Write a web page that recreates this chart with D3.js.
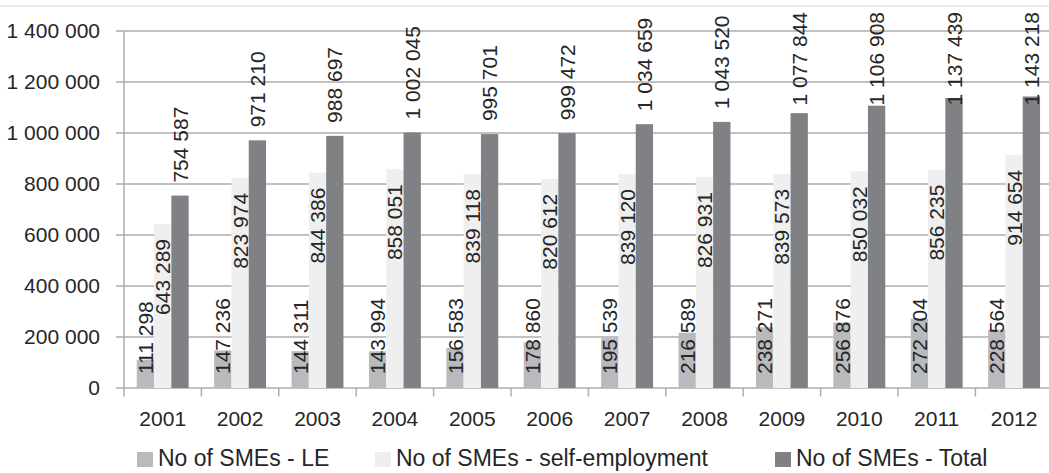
<!DOCTYPE html>
<html><head><meta charset="utf-8">
<script src="https://cdn.jsdelivr.net/npm/d3@7"></script>
<style>
body{margin:0;background:#fff}
svg{display:block}
text{font-family:"Liberation Sans",Arial,sans-serif;fill:#262626}
</style>
</head><body>
<svg id="c" width="1049" height="473"></svg>
<script>
const years = ["2001","2002","2003","2004","2005","2006","2007","2008","2009","2010","2011","2012"];
const seriesNames = ["No of SMEs - LE","No of SMEs - self-employment","No of SMEs - Total"];
const le = [111298,147236,144311,143994,156583,178860,195539,216589,238271,256876,272204,228564];
const selfEmp = [643289,823974,844386,858051,839118,820612,839120,826931,839573,850032,856235,914654];
const total = [754587,971210,988697,1002045,995701,999472,1034659,1043520,1077844,1106908,1137439,1143218];
const yTicks = [0,200000,400000,600000,800000,1000000,1200000,1400000];
const colors = ["#b9babe","#efefef","#808184"];

(function() {
const W = 1049, H = 473;
const padL = 124, padT = 31, baseY = 388, step = 77.4;
const svg = d3.select("#c");
const fmt = v => d3.format(",")(v).replace(/,/g, " ");

const y = d3.scaleLinear().domain([0, 1400000]).range([baseY, padT]);
const x = d3.scaleBand().domain(years).range([padL, padL + step * years.length]).padding(0);
const xi = d3.scaleBand().domain([0,1,2]).range([0, x.bandwidth()]).paddingInner(0).paddingOuter(0.737);

// faint top border
svg.append("line").attr("x1",0).attr("x2",W).attr("y1",6).attr("y2",6)
  .attr("stroke","#e6e6e6").attr("stroke-width",1.5);

// gridlines
svg.append("g").selectAll("line").data(yTicks).join("line")
  .attr("x1", padL - 8).attr("x2", W)
  .attr("y1", d => y(d)).attr("y2", d => y(d))
  .attr("stroke", "#adadad").attr("stroke-width", 1.5);

// y axis line
svg.append("line").attr("x1",padL).attr("x2",padL).attr("y1",padT).attr("y2",baseY)
  .attr("stroke","#adadad").attr("stroke-width",1.5);

// y labels
const yAxis = d3.axisLeft(y).tickValues(yTicks).tickSize(0).tickPadding(0).tickFormat(fmt);
const yg = svg.append("g").attr("transform", `translate(${padL - 24},0)`).call(yAxis);
yg.select(".domain").remove();
yg.selectAll("text").attr("font-size", 21).attr("font-family", null).attr("fill", "#262626");

// x boundary ticks
const bounds = years.map(d => x(d)).concat([x(years[years.length-1]) + x.bandwidth()]);
svg.append("g").selectAll("line").data(bounds).join("line")
  .attr("x1", d => d).attr("x2", d => d).attr("y1", baseY).attr("y2", baseY + 8.5)
  .attr("stroke", "#adadad").attr("stroke-width", 1.5);

// x labels
const xAxis = d3.axisBottom(x).tickSize(0).tickPadding(0);
const xg = svg.append("g").attr("transform", `translate(0,${baseY + 23})`).call(xAxis);
xg.select(".domain").remove();
xg.selectAll("text").attr("font-size", 21).attr("font-family", null).attr("fill", "#262626").attr("dy", "0.71em");

// bars
const series = [le, selfEmp, total];
series.forEach((vals, si) => {
  svg.append("g").selectAll("rect").data(vals).join("rect")
    .attr("x", (d, i) => x(years[i]) + xi(si))
    .attr("width", xi.bandwidth())
    .attr("y", d => y(d))
    .attr("height", d => y(0) - y(d))
    .attr("fill", colors[si]);
});

// labels
const cx = (i, si) => x(years[i]) + xi(si) + xi.bandwidth() / 2;
svg.append("g").selectAll("text").data(le).join("text")
  .attr("transform", (d, i) => `translate(${cx(i,0)},${baseY - 14})rotate(-90)`)
  .attr("dy", "0.36em").attr("font-size", 21).attr("text-anchor", "start")
  .text(fmt);
svg.append("g").selectAll("text").data(selfEmp).join("text")
  .attr("transform", (d, i) => `translate(${cx(i,1)},${y(d) + 15})rotate(-90)`)
  .attr("dy", "0.36em").attr("font-size", 21).attr("text-anchor", "end")
  .text(fmt);
svg.append("g").selectAll("text").data(total).join("text")
  .attr("dy", "0.36em").attr("font-size", 21).attr("text-anchor", "start")
  .text(fmt)
  .each(function(d, i) {
    const len = this.getComputedTextLength();
    let s = y(d) - 13;
    if (s - len < 12) s = 12 + len;
    d3.select(this).attr("transform", `translate(${cx(i,2)},${s})rotate(-90)`);
  });

// legend
const legX = [137, 375, 775];
const lg = svg.append("g");
seriesNames.forEach((n, i) => {
  lg.append("rect").attr("x", legX[i]).attr("y", 452).attr("width", 16).attr("height", 15).attr("fill", colors[i]);
  lg.append("text").attr("x", legX[i] + 21).attr("y", 466).attr("font-size", 23).text(n);
});
})();
</script>
</body></html>
